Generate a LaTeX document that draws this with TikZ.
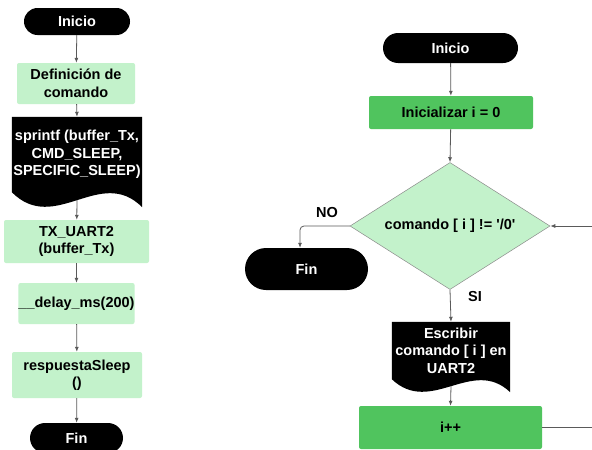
\documentclass[tikz,border=0pt]{standalone}
\usepackage{fontspec}
\setmainfont{Liberation Sans}[Ligatures=TeXOff]
\usetikzlibrary{shapes.geometric,shapes.misc,arrows.meta,calc,backgrounds}
\definecolor{lgreen}{HTML}{C3F2CB}
\definecolor{dgreen}{HTML}{50C45E}
\definecolor{arr}{HTML}{5A5A5A}
\begin{document}
\begin{tikzpicture}[x=1pt,y=-1pt,
  every node/.style={font=\fontsize{14.5}{17.5}\selectfont\bfseries, align=center, inner sep=0pt},
  term/.style={rounded rectangle, fill=black, text=white},
  lbox/.style={rectangle, rounded corners=2, fill=lgreen},
  gbox/.style={rectangle, rounded corners=2, fill=dgreen},
  docbody/.style={rectangle, text=white},
  conn/.style={draw=arr, line width=0.8pt, -{Latex[length=5pt,width=4pt]}},
  plainline/.style={draw=arr, line width=0.8pt}
]
\clip (0,0) rectangle (592,450);
\begin{scope}[on background layer]
\fill[white] (0,0) rectangle (592,450);
\end{scope}

% ---------- left flow ----------
\node[term, minimum width=106, minimum height=27] (i1) at (77,21.5) {Inicio};
\node[lbox, minimum width=118, minimum height=41] (def) at (76,83.5) {Definición de\\comando};
\node[docbody, minimum width=130, minimum height=75] (spr) at (77,154.5) {sprintf (buffer\_Tx,\\CMD\_SLEEP,\\SPECIFIC\_SLEEP)};
\node[lbox, minimum width=145, minimum height=43] (tx) at (76.5,241.5) {TX\_UART2\\(buffer\_Tx)};
\node[lbox, minimum width=115, minimum height=41] (del) at (76.5,303.5) {\_\_delay\_ms(200)};
\node[lbox, minimum width=130, minimum height=46] (resp) at (77,375) {respuestaSleep\\()};
\node[term, minimum width=93, minimum height=30] (fin1) at (76.5,438) {Fin};

\begin{scope}[on background layer]
\fill[black] (spr.north west) -- (spr.north east) -- ($(spr.south east)+(0,15)$)
  .. controls ($(spr.south east)+(-42,-27)$) and ($(spr.south west)+(43,43)$) .. (spr.south west) -- cycle;
\end{scope}

\draw[conn] (i1) -- (def);
\draw[conn] (def) -- (spr.north);
\draw[conn] ($(spr.south)+(0,8)$) -- (tx);
\draw[conn] (tx) -- (del);
\draw[conn] (del) -- (resp);
\draw[conn] (resp) -- (fin1);

% ---------- right flow ----------
\node[term, minimum width=135, minimum height=30] (i2) at (450.5,48) {Inicio};
\node[gbox, minimum width=164, minimum height=33] (ini) at (451,112.5) {Inicializar i = 0};
\node[diamond, aspect=1.57, fill=lgreen, draw=arr!70, line width=0.5pt, minimum width=200, minimum height=127] (cond) at (450,226) {comando [ i ] != '/0'};
\node[term, minimum width=123, minimum height=42] (fin2) at (306.5,269) {Fin};
\node[docbody, minimum width=118, minimum height=57] (esc) at (451,350.5) {Escribir\\comando [ i ] en\\UART2};
\node[gbox, minimum width=183, minimum height=43] (inc) at (450.5,427.5) {i++};
\node (no) at (327,213) {NO};
\node (si) at (475,297) {SI};
\coordinate (loopc) at (610,427.5);

\begin{scope}[on background layer]
\fill[black] (esc.north west) -- (esc.north east) -- ($(esc.south east)+(0,13)$)
  .. controls ($(esc.south east)+(-38,-23)$) and ($(esc.south west)+(39,37)$) .. (esc.south west) -- cycle;
\end{scope}

\draw[conn] (i2) -- (ini);
\draw[conn] (ini) -- (cond.north);
\draw[conn, rounded corners=4] (cond.west) -| ([xshift=-6.5]fin2.north);
\draw[conn] (cond.south) -- (esc.north);
\draw[conn] ($(esc.south)+(0,7)$) -- (inc.north);
\draw[conn] (inc.east) -- (loopc) |- (cond.east);
\end{tikzpicture}
\end{document}
